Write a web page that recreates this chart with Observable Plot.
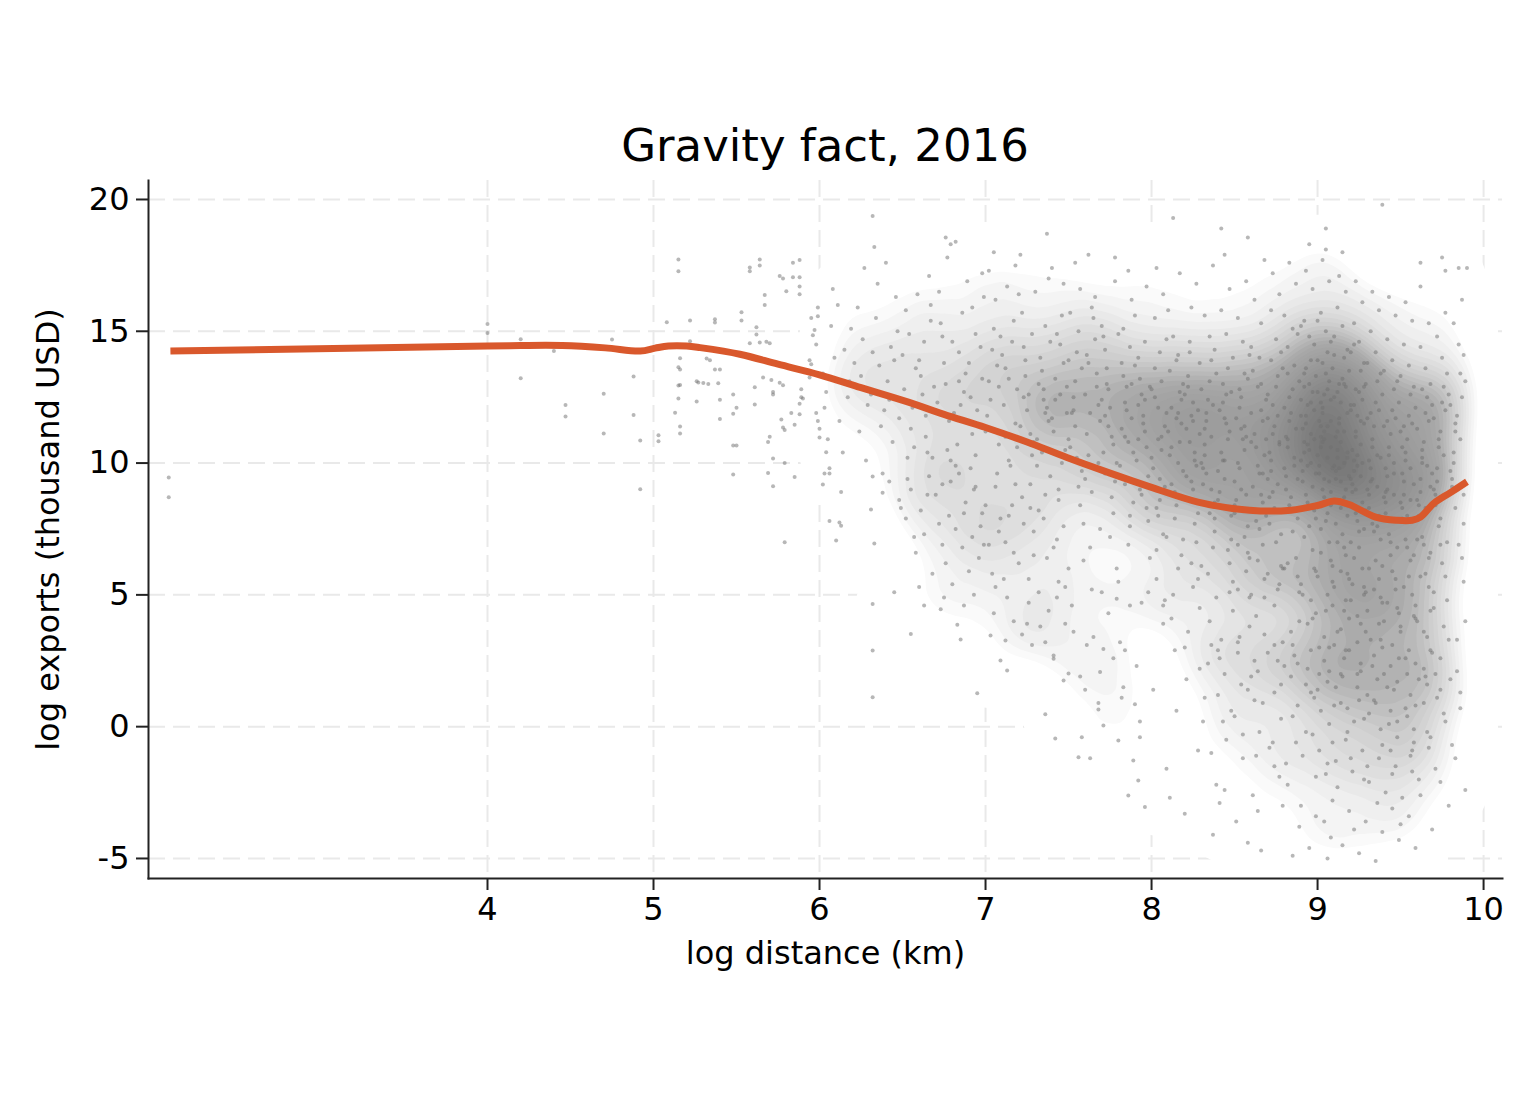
<!DOCTYPE html>
<html>
<head>
<meta charset="utf-8">
<script src="https://cdn.jsdelivr.net/npm/d3@7"></script>
<script src="https://cdn.jsdelivr.net/npm/@observablehq/plot@0.6"></script>
<style>
  body { margin: 0; background: #fff; }
  #wrap { position: relative; width: 1536px; height: 1104px; background: #fff; }
  #title { position: absolute; left: 148px; width: 1354px; top: 123px; text-align: center;
           font-family: "DejaVu Sans", sans-serif; font-size: 45px; line-height: 45px; color: #000; }
  #chart { position: absolute; left: 0; top: 170px; }
</style>
</head>
<body>
<div id="wrap">
  <div id="title">Gravity fact, 2016</div>
  <div id="chart"></div>
</div>
<script>
// ---- Data (log distance km, log exports thousand USD) ----
const xTicks = [4, 5, 6, 7, 8, 9, 10];
const yTicks = [-5, 0, 5, 10, 15, 20];

// smoothed (lowess) line
const curveX = [2.09,4.0,4.2,4.45,4.71,4.92,5.01,5.09,5.2,5.28,5.52,5.75,6.0,6.25,6.54,6.75,7.0,7.25,7.49,7.75,8.0,8.28,8.59,8.84,9.0,9.1,9.19,9.35,9.48,9.57,9.62,9.7,9.8,9.9];
const curveY = [14.25,14.44,14.46,14.46,14.37,14.25,14.36,14.44,14.44,14.38,14.13,13.75,13.35,12.86,12.3,11.85,11.35,10.8,10.21,9.62,9.08,8.52,8.21,8.21,8.39,8.56,8.43,7.95,7.83,7.83,7.95,8.47,8.88,9.29];

// scatter points
const farPts = [[2.08,9.45],[2.08,8.7],[4.0,15.28],[4.0,14.93],[4.2,14.7],[4.2,13.22],[4.4,14.25],[4.47,12.2],[4.47,11.77],[4.7,12.63],[4.7,11.12],[4.75,14.69],[4.88,13.28],[4.88,11.82],[4.92,10.86],[4.92,9.01],[5.03,11.06],[5.03,10.83],[5.08,15.34],[5.13,11.91],[5.15,17.72],[5.15,17.28],[5.16,13.98],[5.15,13.64],[5.16,13.55],[5.15,12.94],[5.15,12.45],[5.16,11.39],[5.16,11.12],[5.22,15.41],[5.22,14.62],[5.26,13.1],[5.26,12.34],[5.37,15.46],[5.37,15.33],[5.53,15.72],[5.53,15.41],[5.58,17.42],[5.58,17.28],[5.64,17.72],[5.64,17.5],[5.67,16.38],[5.67,16.0],[5.62,15.15],[5.62,14.88],[5.58,14.55],[5.64,14.57],[5.68,14.6],[5.7,14.55],[5.76,17.1],[5.78,17.0],[5.84,17.6],[5.88,17.7],[5.84,17.05],[5.88,17.05],[5.8,16.52],[5.88,16.7],[5.88,16.4],[5.32,13.97],[5.34,13.9],[5.37,13.55],[5.4,13.55],[5.27,13.06],[5.3,13.04],[5.33,13.0],[5.39,13.03],[5.16,12.96],[5.4,12.4],[5.4,11.67],[5.48,12.6],[5.5,12.1],[5.48,11.87],[5.48,10.67],[5.5,10.67],[5.48,9.57],[5.61,12.88],[5.61,12.22],[5.66,13.25],[5.71,13.15],[5.72,12.7],[5.72,12.6],[5.76,13.05],[5.78,12.95],[5.77,11.65],[5.78,11.35],[5.79,11.25],[5.7,11.0],[5.69,10.8],[5.72,10.17],[5.69,9.62],[5.72,9.12],[5.79,10.0],[5.79,7.0],[5.85,9.47],[5.83,11.9],[5.85,11.45],[5.88,11.85],[5.89,12.8],[5.89,12.5],[5.9,12.45],[5.88,12.25],[5.94,13.9],[5.95,13.75],[5.94,13.25],[5.95,15.5],[5.97,15.05],[5.96,14.85],[5.98,14.5],[5.99,15.9],[5.99,15.57],[5.98,11.9],[5.99,11.6],[6.0,11.3],[6.0,10.97],[6.04,10.41],[6.03,9.6],[6.06,9.6],[6.02,9.19],[6.06,7.8],[6.12,7.75],[6.13,7.62],[6.1,7.06],[6.32,9.49],[6.38,8.87],[6.31,8.24],[6.33,6.95],[6.32,19.37]];

const lowTail = [[6.32,4.65],[6.55,3.52],[6.32,2.89],[6.32,1.12],[6.63,4.6],[6.73,4.45],[6.83,3.87],[6.85,3.31],[6.95,1.27],[7.03,3.46],[7.12,3.27],[7.09,2.51],[7.13,2.13],[7.36,0.47],[7.42,-0.45],[7.56,-1.16],[7.63,-1.2],[7.86,-2.61],[7.96,-3.05],[7.8,-0.52],[7.89,-1.28],[7.92,-2.04],[7.71,0.04],[7.58,-0.4],[7.68,0.65],[7.83,1.5],[7.9,0.85],[7.93,0.2],[7.47,1.75],[7.6,1.4],[7.69,2.07],[7.41,2.58],[7.5,2.02],[7.36,3.2],[7.25,3.9],[7.28,3.1],[7.53,3.6],[7.61,3.1],[7.71,2.95],[7.84,2.9],[7.7,5.1],[7.79,4.85],[7.87,4.6]];

const midLow = [[6.42,9.3],[6.48,8.6],[6.52,7.9],[6.55,9.0],[6.58,6.6],[6.61,8.2],[6.63,7.3],[6.66,9.5],[6.68,5.8],[6.7,8.8],[6.72,7.7],[6.74,9.2],[6.76,6.2],[6.78,8.0],[6.8,5.4],[6.82,7.5],[6.84,9.6],[6.86,6.8],[6.88,8.5],[6.9,5.9],[6.92,7.2],[6.94,9.1],[6.96,6.4],[6.98,8.1],[6.45,5.1],[6.6,5.3],[6.75,4.9],[6.87,4.6],[6.93,5.0],[6.99,6.9],[6.53,10.2],[6.65,10.4],[6.79,10.1],[6.91,9.8]];

const mid7Low = [[7.02,6.9],[7.05,4.3],[7.08,7.4],[7.11,5.6],[7.14,8.0],[7.17,4.0],[7.2,6.2],[7.23,7.7],[7.26,4.7],[7.29,6.5],[7.32,5.1],[7.35,7.9],[7.38,4.4],[7.41,6.8],[7.44,5.5],[7.47,7.6],[7.5,6.0],[7.12,7.0],[7.27,8.3],[7.43,4.9],[7.0,8.4],[7.18,9.2],[7.36,8.8],[7.06,5.3],[7.22,3.5],[7.48,3.9]];

const topScatter = [[6.76,18.56],[6.79,18.3],[7.05,18.0],[7.37,18.7],[7.62,17.9],[8.58,18.56],[8.42,18.9],[9.05,18.9],[9.62,17.6],[9.75,17.8],[9.9,17.4]];

const band6 = [[6.02,13.4],[6.05,10.9],[6.07,15.2],[6.03,12.1],[6.09,14.0],[6.06,9.8],[6.08,16.6],[6.04,12.7],
[6.12,11.6],[6.15,14.3],[6.18,13.1],[6.11,16.0],[6.14,10.4],[6.17,12.5],[6.19,15.1],[6.13,8.9],
[6.21,13.8],[6.24,11.2],[6.27,17.4],[6.22,12.9],[6.26,14.7],[6.28,10.1],[6.23,15.9],[6.29,12.2],[6.25,13.3],
[6.31,12.6],[6.34,15.5],[6.37,11.4],[6.33,18.2],[6.36,13.7],[6.38,9.6],[6.32,14.2],[6.39,12.0],[6.35,16.8],
[6.41,13.1],[6.44,10.8],[6.47,15.0],[6.42,12.4],[6.46,16.3],[6.48,11.7],[6.43,14.4],[6.49,8.3],[6.45,13.9],[6.4,17.6],
[6.51,12.8],[6.54,14.9],[6.57,10.6],[6.52,15.8],[6.56,12.1],[6.58,13.6],[6.53,9.4],[6.59,16.4],[6.55,11.3],[6.5,14.1],[6.57,7.2],
[6.61,13.3],[6.64,11.0],[6.67,15.4],[6.62,12.6],[6.66,17.1],[6.68,10.2],[6.63,14.6],[6.69,12.9],[6.65,8.8],[6.6,13.9],[6.67,16.0],[6.64,11.8],
[6.71,12.3],[6.74,14.8],[6.77,10.5],[6.72,16.5],[6.76,13.0],[6.78,11.6],[6.73,15.3],[6.79,9.3],[6.75,13.8],[6.7,12.0],[6.77,17.8],[6.74,6.9],
[6.81,11.9],[6.84,14.2],[6.87,12.7],[6.82,9.9],[6.86,15.7],[6.88,13.4],[6.83,10.7],[6.89,16.9],[6.85,12.2],[6.8,14.6],[6.87,8.1],[6.84,13.1],[6.82,18.4],
[6.91,12.5],[6.94,10.3],[6.97,14.4],[6.92,15.9],[6.96,11.4],[6.98,13.2],[6.93,9.0],[6.99,16.3],[6.95,12.0],[6.9,13.8],[6.97,7.6],[6.94,14.9],[6.92,11.1],[6.98,17.2]];

const band7 = [[7.01,11.8],[7.04,14.3],[7.07,9.6],[7.02,13.1],[7.06,16.2],[7.08,10.7],[7.03,12.4],[7.09,7.9],[7.05,15.1],[7.0,11.2],[7.07,13.7],[7.04,5.8],[7.02,17.3],[7.08,12.9],[7.06,9.1],[7.09,14.8],
[7.11,12.2],[7.14,10.1],[7.17,15.4],[7.12,13.6],[7.16,8.4],[7.18,11.5],[7.13,16.7],[7.19,12.8],[7.15,9.9],[7.1,14.1],[7.17,6.6],[7.14,13.2],[7.12,11.0],[7.18,17.5],[7.16,14.6],[7.13,4.9],[7.19,10.6],
[7.21,11.4],[7.24,13.9],[7.27,9.2],[7.22,15.7],[7.26,12.6],[7.28,10.3],[7.23,14.4],[7.29,7.4],[7.25,12.0],[7.2,16.4],[7.27,11.1],[7.24,13.3],[7.22,8.7],[7.28,14.9],[7.26,5.6],[7.23,12.5],[7.29,10.8],[7.21,17.9],
[7.31,10.9],[7.34,13.5],[7.37,12.1],[7.32,8.2],[7.36,15.2],[7.38,11.6],[7.33,14.0],[7.39,9.5],[7.35,12.8],[7.3,16.5],[7.37,6.4],[7.34,10.4],[7.32,13.0],[7.38,17.0],[7.36,11.9],[7.33,3.8],[7.39,14.6],[7.31,9.9],[7.35,12.4],
[7.41,11.2],[7.44,9.0],[7.47,13.8],[7.42,12.4],[7.46,15.6],[7.48,10.5],[7.43,7.1],[7.49,12.9],[7.45,14.5],[7.4,11.7],[7.47,16.8],[7.44,8.6],[7.42,13.2],[7.48,5.3],[7.46,10.0],[7.43,14.9],[7.49,11.9],[7.41,2.7],[7.45,12.6],[7.4,17.4],
[7.51,10.6],[7.54,13.1],[7.57,8.4],[7.52,11.9],[7.56,15.0],[7.58,9.7],[7.53,12.5],[7.59,6.3],[7.55,14.2],[7.5,10.9],[7.57,16.6],[7.54,11.4],[7.52,4.6],[7.58,13.6],[7.56,9.1],[7.53,12.0],[7.59,7.7],[7.51,15.7],[7.55,10.2],[7.5,13.9],[7.57,1.9],[7.54,17.6],
[7.61,11.1],[7.64,8.9],[7.67,13.4],[7.62,10.3],[7.66,14.7],[7.68,12.2],[7.63,6.8],[7.69,11.6],[7.65,15.5],[7.6,9.4],[7.67,12.9],[7.64,5.2],[7.62,13.8],[7.68,10.0],[7.66,16.3],[7.63,11.9],[7.69,7.5],[7.61,14.1],[7.65,3.4],[7.6,12.6],[7.67,9.8],[7.64,15.9],[7.68,0.9],
[7.71,10.4],[7.74,12.8],[7.77,8.1],[7.72,14.3],[7.76,11.0],[7.78,9.3],[7.73,13.6],[7.79,6.0],[7.75,12.1],[7.7,15.2],[7.77,10.7],[7.74,4.3],[7.72,11.8],[7.78,16.9],[7.76,8.7],[7.73,13.0],[7.79,10.0],[7.71,14.8],[7.75,7.2],[7.7,12.4],[7.77,2.6],[7.74,11.4],[7.72,9.6],[7.78,17.8],
[7.81,9.9],[7.84,12.3],[7.87,7.6],[7.82,13.8],[7.86,10.8],[7.88,11.7],[7.83,15.1],[7.89,8.5],[7.85,12.9],[7.8,5.5],[7.87,14.4],[7.84,9.2],[7.82,11.3],[7.88,16.2],[7.86,6.9],[7.83,13.3],[7.89,10.4],[7.81,3.2],[7.85,12.0],[7.8,14.9],[7.87,8.0],[7.84,11.0],[7.82,1.1],[7.88,13.0],[7.86,17.3],
[7.91,10.1],[7.94,12.6],[7.97,8.3],[7.92,14.0],[7.96,11.2],[7.98,9.5],[7.93,13.2],[7.99,6.4],[7.95,11.8],[7.9,15.6],[7.97,10.6],[7.94,4.7],[7.92,12.2],[7.98,7.8],[7.96,14.6],[7.93,9.0],[7.99,12.9],[7.91,2.3],[7.95,11.5],[7.9,13.7],[7.97,16.7],[7.94,8.8],[7.92,10.9],[7.98,5.1],[7.96,12.4],[7.93,-0.4]];

const band8 = [[8.01,9.8],[8.04,12.1],[8.07,7.3],[8.02,13.6],[8.06,10.5],[8.08,11.4],[8.03,5.6],[8.09,14.7],[8.05,8.6],[8.0,12.8],[8.07,3.9],[8.04,10.9],[8.02,15.5],[8.08,9.1],[8.06,13.1],[8.03,6.7],[8.09,11.9],[8.01,1.4],[8.05,14.2],[8.0,10.2],[8.07,16.4],[8.04,8.0],[8.02,12.5],[8.08,4.8],[8.06,11.0],[8.03,17.4],[8.09,-1.6],[8.05,9.4],
[8.11,10.3],[8.14,7.9],[8.17,12.7],[8.12,9.2],[8.16,14.1],[8.18,11.5],[8.13,5.0],[8.19,13.0],[8.15,8.4],[8.1,15.8],[8.17,10.8],[8.14,2.9],[8.12,12.1],[8.18,6.5],[8.16,11.9],[8.13,14.8],[8.19,9.7],[8.11,13.5],[8.15,0.6],[8.1,11.2],[8.17,17.2],[8.14,8.9],[8.12,4.1],[8.18,12.4],[8.16,10.0],[8.13,19.3],[8.19,7.1],[8.11,-2.7],[8.15,13.9],
[8.21,9.5],[8.24,11.8],[8.27,7.0],[8.22,13.3],[8.26,10.4],[8.28,8.1],[8.23,14.6],[8.29,11.1],[8.25,5.3],[8.2,12.6],[8.27,9.9],[8.24,15.9],[8.22,3.6],[8.28,12.0],[8.26,7.7],[8.23,10.8],[8.29,13.8],[8.21,1.8],[8.25,11.6],[8.2,8.7],[8.27,16.8],[8.24,6.2],[8.22,12.9],[8.28,-0.9],[8.26,10.1],[8.23,14.2],[8.29,4.5],[8.21,11.3],[8.25,9.0],[8.2,-3.3],
[8.31,9.2],[8.34,12.4],[8.37,6.8],[8.32,10.7],[8.36,13.9],[8.38,8.5],[8.33,11.6],[8.39,4.9],[8.35,14.8],[8.3,10.0],[8.37,12.2],[8.34,2.4],[8.32,15.6],[8.38,7.4],[8.36,11.0],[8.33,9.6],[8.39,13.4],[8.31,0.2],[8.35,8.1],[8.3,12.8],[8.37,17.5],[8.34,5.8],[8.32,10.3],[8.38,14.3],[8.36,3.1],[8.33,11.9],[8.39,-2.2],[8.31,9.8],[8.35,13.1],[8.3,6.1],[8.37,-4.1],
[8.41,8.9],[8.44,11.7],[8.47,6.2],[8.42,10.4],[8.46,13.6],[8.48,8.0],[8.43,12.3],[8.49,4.4],[8.45,14.9],[8.4,9.7],[8.47,11.2],[8.44,2.0],[8.42,15.8],[8.48,7.1],[8.46,10.9],[8.43,13.0],[8.49,5.5],[8.41,12.0],[8.45,-0.5],[8.4,8.6],[8.47,16.6],[8.44,9.4],[8.42,3.3],[8.48,12.7],[8.46,6.7],[8.43,10.1],[8.49,14.0],[8.41,-2.9],[8.45,11.5],[8.4,1.2],[8.47,8.3],[8.44,17.9],
[8.51,8.6],[8.54,11.3],[8.57,5.9],[8.52,10.0],[8.56,13.4],[8.58,7.6],[8.53,12.1],[8.59,3.8],[8.55,14.6],[8.5,9.3],[8.57,11.0],[8.54,1.6],[8.52,15.5],[8.58,6.6],[8.56,10.5],[8.53,12.8],[8.59,4.9],[8.51,11.7],[8.55,-1.2],[8.5,8.1],[8.57,16.9],[8.54,9.0],[8.52,2.8],[8.58,13.2],[8.56,7.2],[8.53,9.8],[8.59,14.1],[8.51,-3.6],[8.55,10.9],[8.5,0.4],[8.57,8.8],[8.54,12.5],[8.52,5.2],[8.58,-4.4],
[8.61,9.1],[8.64,6.3],[8.67,11.6],[8.62,8.2],[8.66,13.0],[8.68,10.3],[8.63,4.2],[8.69,12.4],[8.65,7.5],[8.6,14.4],[8.67,9.6],[8.64,2.1],[8.62,11.1],[8.68,5.6],[8.66,15.3],[8.63,10.6],[8.69,8.0],[8.61,13.5],[8.65,-0.2],[8.6,11.9],[8.67,6.9],[8.64,9.9],[8.62,16.2],[8.68,3.5],[8.66,12.0],[8.63,7.8],[8.69,10.9],[8.61,-2.6],[8.65,14.0],[8.6,5.0],[8.67,8.5],[8.64,12.9],[8.62,1.0],[8.68,17.7],[8.66,-4.7],
[8.71,8.7],[8.74,11.4],[8.77,5.4],[8.72,10.1],[8.76,13.3],[8.78,7.3],[8.73,12.2],[8.79,3.2],[8.75,14.7],[8.7,9.4],[8.77,10.8],[8.74,1.3],[8.72,15.8],[8.78,6.1],[8.76,11.8],[8.73,8.9],[8.79,13.6],[8.71,-0.8],[8.75,7.0],[8.7,12.6],[8.77,16.4],[8.74,4.6],[8.72,9.7],[8.78,14.2],[8.76,2.5],[8.73,11.1],[8.79,-3.0],[8.71,10.4],[8.75,12.9],[8.7,5.8],[8.77,-1.9],[8.74,8.3],[8.72,13.9],[8.78,0.3],[8.76,9.2],[8.73,17.2],
[8.81,9.0],[8.84,11.9],[8.87,6.4],[8.82,10.6],[8.86,13.7],[8.88,7.9],[8.83,12.5],[8.89,4.0],[8.85,15.1],[8.8,9.8],[8.87,11.3],[8.84,1.9],[8.82,14.4],[8.88,5.7],[8.86,10.2],[8.83,8.4],[8.89,13.1],[8.81,-1.4],[8.85,7.4],[8.8,12.1],[8.87,16.8],[8.84,3.6],[8.82,10.9],[8.88,14.9],[8.86,2.7],[8.83,11.6],[8.89,-3.8],[8.81,9.5],[8.85,12.8],[8.8,6.0],[8.87,-0.6],[8.84,8.7],[8.82,13.4],[8.88,0.8],[8.86,9.9],[8.83,17.6],[8.89,5.1],[8.81,11.0],[8.85,-4.9],[8.8,15.6],
[8.91,9.3],[8.94,12.2],[8.97,6.7],[8.92,10.8],[8.96,13.9],[8.98,8.2],[8.93,11.5],[8.99,4.3],[8.95,14.8],[8.9,10.1],[8.97,12.7],[8.94,2.2],[8.92,15.4],[8.98,6.0],[8.96,11.1],[8.93,8.8],[8.99,13.3],[8.91,-1.1],[8.95,7.6],[8.9,12.4],[8.97,16.6],[8.94,3.9],[8.92,10.4],[8.98,14.5],[8.96,2.9],[8.93,11.8],[8.99,-3.4],[8.91,9.7],[8.95,13.0],[8.9,5.4],[8.97,-0.3],[8.94,8.5],[8.92,12.9],[8.98,1.1],[8.96,10.0],[8.93,17.3],[8.99,5.9],[8.91,11.3],[8.95,-4.6],[8.9,15.2],[8.97,9.1],[8.94,10.7],[8.92,7.2],[8.98,12.0],[8.96,4.8],[8.93,13.6],[8.99,9.6],[8.95,18.3]];

const band9 = [[9.01,9.6],[9.04,12.6],[9.07,7.0],[9.02,11.0],[9.06,14.2],[9.08,8.4],[9.03,11.9],[9.09,4.6],[9.05,15.0],[9.0,10.3],[9.07,13.1],[9.04,2.5],[9.02,15.7],[9.08,6.3],[9.06,11.4],[9.03,9.0],[9.09,13.6],[9.01,-0.9],[9.05,7.8],[9.0,12.7],[9.07,16.9],[9.04,3.4],[9.02,10.6],[9.08,14.6],[9.06,1.7],[9.03,12.1],[9.09,-2.8],[9.01,9.9],[9.05,13.4],[9.0,5.7],[9.07,0.1],[9.04,8.7],[9.02,12.3],[9.08,-4.2],[9.06,10.2],[9.03,17.7],[9.09,6.1],[9.01,11.6],[9.05,-1.8],[9.0,15.4],[9.07,9.3],[9.04,10.9],[9.02,7.5],[9.08,12.4],[9.06,5.0],[9.03,13.8],[9.09,9.8],[9.05,18.1],[9.01,3.0],[9.06,-5.0],[9.04,11.2],[9.08,8.9],
[9.11,9.4],[9.14,12.3],[9.17,6.5],[9.12,10.5],[9.16,14.0],[9.18,8.0],[9.13,11.7],[9.19,4.1],[9.15,15.2],[9.1,9.9],[9.17,12.9],[9.14,2.0],[9.12,15.9],[9.18,5.8],[9.16,11.2],[9.13,8.6],[9.19,13.5],[9.11,-1.3],[9.15,7.3],[9.1,12.5],[9.17,16.5],[9.14,3.7],[9.12,10.2],[9.18,14.3],[9.16,2.6],[9.13,11.5],[9.19,-3.2],[9.11,9.7],[9.15,13.2],[9.1,5.3],[9.17,-0.5],[9.14,8.3],[9.12,12.7],[9.18,0.7],[9.16,10.0],[9.13,17.1],[9.19,5.6],[9.11,11.0],[9.15,-4.5],[9.1,14.8],[9.17,9.0],[9.14,10.8],[9.12,7.0],[9.18,11.9],[9.16,4.4],[9.13,13.0],[9.19,9.5],[9.15,18.0],[9.11,1.5],[9.16,6.8],
[9.21,8.9],[9.24,11.8],[9.27,6.0],[9.22,10.1],[9.26,13.5],[9.28,7.5],[9.23,11.2],[9.29,3.6],[9.25,14.6],[9.2,9.4],[9.27,12.4],[9.24,1.5],[9.22,15.3],[9.28,5.3],[9.26,10.7],[9.23,8.1],[9.29,13.0],[9.21,-1.7],[9.25,6.8],[9.2,12.0],[9.27,16.1],[9.24,3.2],[9.22,9.7],[9.28,13.8],[9.26,2.1],[9.23,11.0],[9.29,-3.6],[9.21,9.2],[9.25,12.7],[9.2,4.8],[9.27,-0.9],[9.24,7.8],[9.22,12.2],[9.28,0.3],[9.26,9.5],[9.23,16.9],[9.29,5.1],[9.21,10.5],[9.25,-4.8],[9.2,14.2],[9.27,8.5],[9.24,10.3],[9.22,6.4],[9.28,11.5],[9.26,3.9],[9.23,12.8],
[9.31,8.3],[9.34,11.4],[9.37,5.6],[9.32,9.8],[9.36,13.1],[9.38,7.1],[9.33,10.9],[9.39,3.0],[9.35,14.2],[9.3,9.0],[9.37,12.0],[9.34,1.0],[9.32,15.0],[9.38,4.9],[9.36,10.3],[9.33,7.7],[9.39,12.6],[9.31,-2.1],[9.35,6.3],[9.3,11.7],[9.37,15.8],[9.34,2.7],[9.32,9.3],[9.38,13.4],[9.36,1.8],[9.33,10.6],[9.39,-4.0],[9.31,8.8],[9.35,12.3],[9.3,4.4],[9.37,-1.2],[9.34,7.4],[9.32,11.9],[9.38,-0.1],[9.36,9.1],[9.33,16.5],[9.39,4.7],[9.31,10.1],[9.35,-5.1],[9.3,13.8],[9.37,8.0],[9.39,19.8],
[9.41,8.1],[9.44,11.1],[9.47,5.2],[9.42,9.5],[9.46,12.8],[9.48,6.8],[9.43,10.6],[9.49,2.6],[9.45,13.9],[9.4,8.7],[9.47,11.7],[9.44,0.6],[9.42,14.7],[9.48,4.5],[9.46,10.0],[9.43,7.3],[9.49,12.3],[9.41,-2.5],[9.45,5.9],[9.4,11.4],[9.47,15.6],[9.44,2.3],[9.42,9.0],[9.48,13.1],[9.46,1.4],[9.43,10.3],[9.49,-4.3],[9.41,8.5],[9.45,12.0],[9.4,4.0],[9.47,-1.5],[9.44,7.0],[9.42,11.6],[9.48,-0.4],[9.46,8.8],[9.43,16.3],[9.49,4.3],[9.41,9.8],[9.45,-3.1],[9.4,13.5],
[9.51,7.9],[9.54,10.9],[9.57,5.0],[9.52,9.3],[9.56,12.6],[9.58,6.5],[9.53,10.4],[9.59,2.4],[9.55,13.7],[9.5,8.5],[9.57,11.5],[9.54,0.4],[9.52,14.5],[9.58,4.2],[9.56,9.8],[9.53,7.1],[9.59,12.1],[9.51,-2.7],[9.55,5.7],[9.5,11.2],[9.57,15.4],[9.54,2.0],[9.52,8.8],[9.58,12.9],[9.56,1.2],[9.53,10.1],[9.59,-4.6],[9.51,8.3],[9.55,11.8],[9.5,3.8],[9.57,-1.7],[9.54,6.8],[9.52,11.4],[9.58,-0.6],[9.56,8.6],[9.53,16.1],[9.59,4.1],[9.51,9.6],[9.55,-3.4],[9.5,13.3],
[9.61,8.0],[9.64,10.8],[9.67,5.3],[9.62,9.4],[9.66,12.5],[9.68,6.6],[9.63,10.5],[9.69,2.8],[9.65,13.6],[9.6,8.6],[9.67,11.6],[9.64,0.9],[9.62,14.4],[9.68,4.4],[9.66,9.9],[9.63,7.2],[9.69,12.2],[9.61,-2.0],[9.65,5.8],[9.6,11.3],[9.67,15.3],[9.64,2.2],[9.62,8.9],[9.68,13.0],[9.66,1.6],[9.63,10.2],[9.69,-3.9],[9.61,8.4],[9.65,11.9],[9.6,4.0],[9.67,-0.8],[9.64,6.9],[9.62,16.7],[9.68,9.1],[9.66,3.4],[9.63,12.8],
[9.71,8.4],[9.74,11.2],[9.77,5.7],[9.72,9.8],[9.76,12.9],[9.78,7.0],[9.73,10.9],[9.79,3.3],[9.75,14.0],[9.7,9.0],[9.77,12.0],[9.74,1.4],[9.72,14.8],[9.78,4.8],[9.76,10.3],[9.73,7.6],[9.79,12.6],[9.71,-1.6],[9.75,6.2],[9.7,11.7],[9.77,15.7],[9.74,2.6],[9.72,9.3],[9.78,13.4],[9.76,0.5],[9.73,10.6],[9.79,-3.0],[9.71,8.8],[9.75,12.3],[9.7,4.5],[9.77,17.3],[9.74,6.9],
[9.81,9.1],[9.84,11.8],[9.87,6.4],[9.82,10.4],[9.86,13.4],[9.88,7.7],[9.83,11.5],[9.89,4.0],[9.85,14.5],[9.8,9.7],[9.87,12.5],[9.84,2.1],[9.82,15.3],[9.88,5.5],[9.86,10.9],[9.83,8.3],[9.89,13.1],[9.81,-0.7],[9.85,6.9],[9.8,12.2],[9.87,16.2],[9.84,3.3],[9.82,10.0],[9.88,14.1],[9.86,1.3],[9.83,11.2],[9.89,-2.4],[9.81,9.4],[9.85,17.4],[9.88,8.8]];

// extra points in the densest part of the cloud
const coreExtra = [[8.82,6.2],[8.85,3.1],[8.88,9.4],[8.91,5.0],[8.93,1.6],[8.95,10.5],[8.97,4.1],[8.99,7.9],[9.01,2.0],[9.02,6.6],[9.03,10.8],[9.05,4.4],[9.06,8.1],[9.07,3.0],[9.08,11.6],[9.09,5.5],[9.1,0.8],[9.11,7.7],[9.12,3.6],[9.13,9.8],[9.14,5.9],[9.15,1.9],[9.16,8.7],[9.17,4.8],[9.18,10.4],[9.19,2.9],[9.2,7.0],[9.21,5.4],[9.22,0.2],[9.23,9.0],[9.24,4.2],[9.25,7.4],[9.26,2.4],[9.27,10.0],[9.28,5.0],[9.29,8.2],[9.3,1.2],[9.31,6.0],[9.32,3.3],[9.33,9.4],[9.34,5.2],[9.35,0.9],[9.36,7.6],[9.37,3.9],[9.38,10.2],[9.39,6.1],[9.4,2.0],[9.41,8.9],[9.42,4.7],[9.43,0.1],[9.44,6.5],[9.45,3.1],[9.46,9.6],[9.47,5.6],[9.48,1.7],[9.49,7.8],[9.5,3.6],[9.51,10.6],[9.52,5.3],[9.53,0.7],[9.54,8.0],[9.55,2.9],[9.56,6.3],[9.57,-0.9],[9.58,9.2],[9.59,4.6],[9.6,7.1],[9.61,1.8],[9.62,5.7],[9.63,10.0],[9.64,3.6],[9.65,8.3],[9.66,-0.2],[9.67,6.4],[9.68,2.9],[9.69,9.6],[9.7,5.1],[9.72,1.1],[9.74,7.9],[9.76,3.8],
[8.9,11.8],[8.92,13.4],[8.94,9.9],[8.96,12.3],[8.98,10.9],[9.0,13.9],[9.02,11.4],[9.04,9.4],[9.06,12.8],[9.08,10.6],[9.1,14.1],[9.12,11.2],[9.14,9.3],[9.16,13.0],[9.18,10.2],[9.2,12.2],[9.22,14.5],[9.24,9.9],[9.26,11.6],[9.28,12.9],
[8.03,8.3],[8.07,4.6],[8.12,10.6],[8.16,6.0],[8.2,3.0],[8.24,9.3],[8.28,5.6],[8.32,11.3],[8.35,4.0],[8.38,7.9],[8.41,2.6],[8.44,10.1],[8.47,5.1],[8.5,8.4],[8.53,3.4],[8.56,11.4],[8.59,6.4],[8.62,2.5],[8.65,9.6],[8.68,4.9],[8.71,7.7],[8.74,3.1],[8.77,10.7],[8.79,6.0],[8.15,11.7],[8.25,12.3],[8.45,12.6],[8.6,10.8],[8.7,11.7],[8.36,9.0],[8.52,6.9],[8.66,8.8],[8.76,5.2],[8.09,7.2],[8.29,2.2],[8.58,1.4],[8.73,-0.6],[8.43,0.2],[8.63,-1.1],[8.8,2.3]];

// extra points in the lower part of the far-distance cloud
const lowExtra = [[8.32,1.1],[8.36,-1.0],[8.4,2.9],[8.44,-2.4],[8.48,0.6],[8.52,3.2],[8.55,-0.3],[8.6,1.9],[8.64,-3.2],[8.67,0.9],[8.7,2.8],[8.74,-1.5],[8.78,1.6],[8.82,-2.2],[8.85,0.4],[8.88,2.4],[8.9,-3.0],[8.93,-0.2],[8.96,1.3],[8.99,-1.9],[9.02,0.6],[9.04,-3.6],[9.07,2.1],[9.09,-0.6],[9.12,-2.3],[9.14,0.9],[9.17,2.9],[9.2,-1.2],[9.22,-3.9],[9.25,1.0],[9.28,-2.0],[9.31,0.5],[9.33,2.3],[9.36,-2.9],[9.39,-0.7],[9.42,1.5],[9.45,-1.8],[9.48,0.2],[9.5,-3.7],[9.53,2.6],[9.56,-1.1],[9.59,0.8],[9.62,-2.6],[9.65,1.9],[9.68,-0.4],[9.71,2.0],[9.74,-2.1],[9.77,0.2],[9.8,1.8],[9.83,-1.2],[9.86,0.7],[9.06,-1.4],[9.18,-0.2],[9.3,-1.5],[9.44,-0.9],[9.58,-0.1],[9.0,1.4],[9.1,3.1],[9.24,2.0],[9.38,3.3]];

// ---- Build ----
const toXY = ([x, y]) => ({x, y});
// the dense main cloud (drives the grey shading underneath the dots)
const cloud = [...lowTail, ...midLow, ...mid7Low, ...band6, ...band7, ...band8, ...band9, ...coreExtra, ...lowExtra].map(toXY);
const points = [...farPts.map(toXY), ...topScatter.map(toXY), ...cloud];
const curve = curveX.map((x, i) => ({x, y: curveY[i]}));

// grey ramp for the point-cloud shading: the sparser densities stay white
const shadeT = d3.scaleLinear().domain([0, 0.13, 0.37, 0.5, 1]).range([0, 0, 0.38, 0.64, 1]).clamp(true);
const shade = t => d3.interpolateRgb("#ffffff", "#777777")(shadeT(t));

const chart = Plot.plot({
  width: 1536,
  height: 934,
  marginTop: 10,
  marginBottom: 226,
  marginLeft: 148,
  marginRight: 34,
  style: {fontFamily: "'DejaVu Sans', sans-serif", fontSize: "32px", background: "#fff", color: "#000"},
  x: {domain: [1.958, 10.114]},
  y: {domain: [-5.76, 20.72]},
  color: {type: "linear", interpolate: shade},
  marks: [
    Plot.gridX(xTicks, {stroke: "#e9e9e9", strokeOpacity: 1, strokeWidth: 2, strokeDasharray: "17,8"}),
    Plot.gridY(yTicks, {stroke: "#e9e9e9", strokeOpacity: 1, strokeWidth: 2, strokeDasharray: "17,8"}),
    Plot.density(cloud, {x: "x", y: "y", fill: "density", bandwidth: 20, thresholds: 40, clip: true}),
    Plot.dot(points, {x: "x", y: "y", r: 2, fill: "#707070", fillOpacity: 0.5, stroke: "none"}),
    Plot.line(curve, {x: "x", y: "y", stroke: "#d9582c", strokeWidth: 7, curve: "catmull-rom", strokeLinecap: "butt"}),
    Plot.frame({anchor: "left", stroke: "#222", strokeWidth: 2}),
    Plot.frame({anchor: "bottom", stroke: "#222", strokeWidth: 2}),
    Plot.axisX(xTicks, {tickSize: 12, tickPadding: 7, stroke: "#222", strokeWidth: 2, tickFormat: d => String(d),
      label: "log distance (km)", labelAnchor: "center", labelArrow: "none", labelOffset: 85}),
    Plot.axisY(yTicks, {tickSize: 12, tickPadding: 7, stroke: "#222", strokeWidth: 2, tickFormat: d => String(d),
      label: "log exports (thousand USD)", labelAnchor: "center", labelArrow: "none", labelOffset: 112})
  ]
});
document.getElementById("chart").appendChild(chart);
</script>
</body>
</html>
